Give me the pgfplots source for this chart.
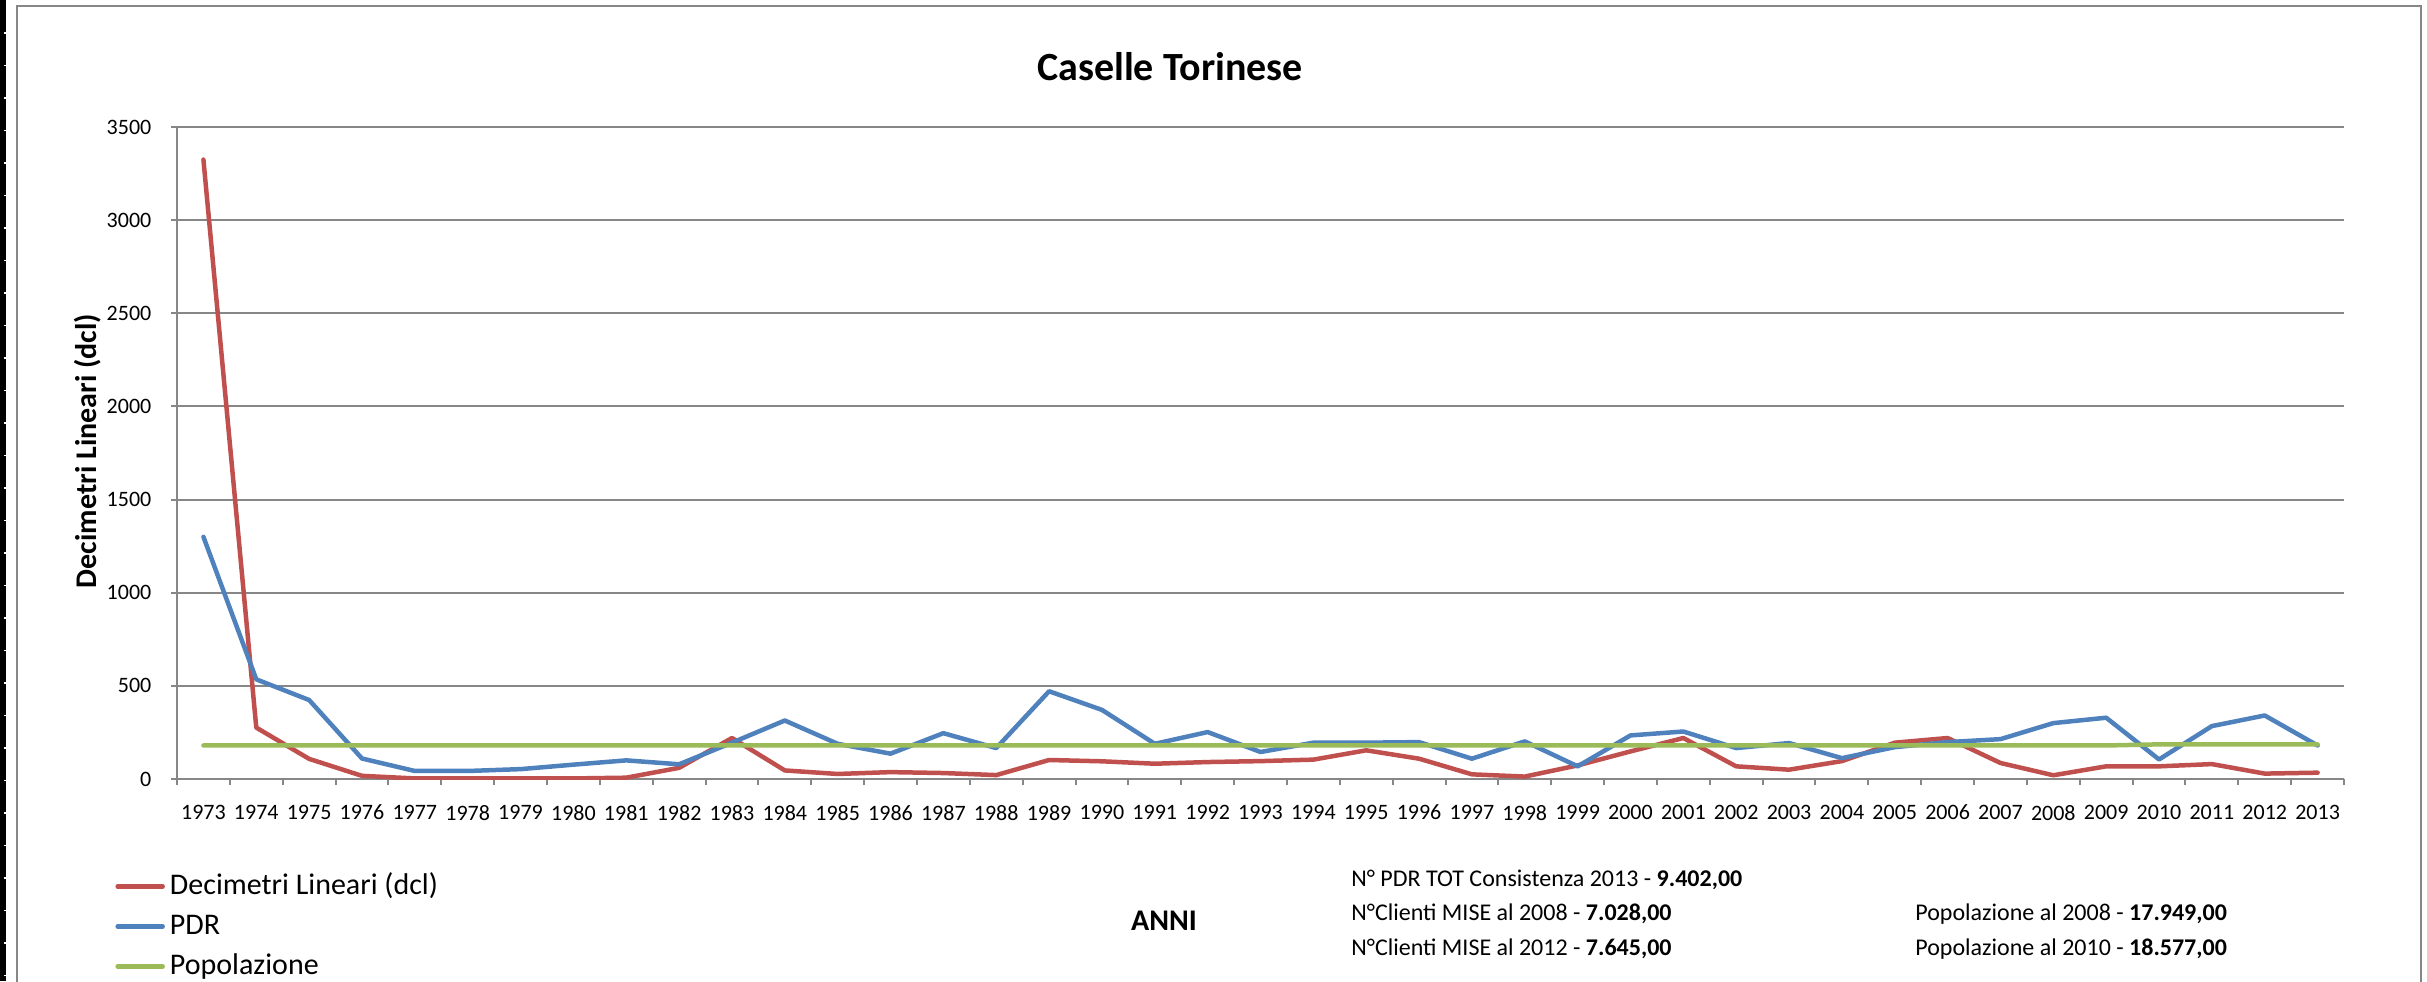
\documentclass[border=0pt]{standalone}
\usepackage{fontspec}
\setmainfont{Carlito}
\usepackage{pgfplots}
\usepackage{pgfplotstable}
\pgfplotsset{compat=1.18}
\definecolor{dclred}{HTML}{C0504D}
\definecolor{pdrblue}{HTML}{4F81BD}
\definecolor{popgreen}{HTML}{9BBB59}
\definecolor{gridgray}{HTML}{878787}

% anni, decimetri lineari, PDR, popolazione/100
\pgfplotstableread{
anno dcl  pdr  pop
1973 3325 1300 180
1974 276  535  180
1975 108  424  180
1976 17   110  180
1977 3    43   180
1978 3    43   180
1979 3    53   180
1980 3    77   180
1981 7    100  180
1982 60   79   180
1983 220  195  180
1984 46   314  180
1985 27   189  180
1986 37   136  180
1987 32   246  180
1988 21   166  180
1989 102  471  180
1990 95   371  180
1991 82   189  180
1992 91   252  180
1993 96   145  180
1994 104  195  180
1995 154  195  180
1996 109  198  180
1997 25   109  180
1998 13   202  180
1999 73   68   180
2000 148  234  180
2001 220  255  180
2002 68   166  180
2003 50   193  180
2004 96   112  180
2005 195  171  180
2006 220  198  180
2007 86   214  180
2008 20   300  180
2009 68   329  180
2010 68   105  186
2011 80   284  186
2012 29   341  186
2013 34   180  186
}\caselle

\begin{document}
\begin{tikzpicture}
\useasboundingbox (0pt,0pt) rectangle (1213.5pt,490.5pt);
% bordo nero a sinistra con tacche
\fill[black] (0pt,0pt) rectangle (3pt,490.5pt);
\foreach \t in {0,...,29}
  \draw[white, line width=0.8pt] (2pt,{474pt-\t*16.25pt}) -- (3.2pt,{474pt-\t*16.25pt});
\draw[gridgray, line width=1pt] (8.5pt,-5pt) rectangle (1210.5pt,487.5pt);

\begin{axis}[
  at={(88.5pt,101pt)}, anchor=south west,
  scale only axis,
  width=1083.5pt, height=326pt,
  xmin=1972.5, xmax=2013.5,
  ymin=0, ymax=3500,
  ytick={0,500,...,3500},
  xtick={1972.5,1973.5,...,2013.5},
  xticklabels={1973,1974,1975,1976,1977,1978,1979,1980,1981,1982,1983,1984,1985,1986,1987,1988,1989,1990,1991,1992,1993,1994,1995,1996,1997,1998,1999,2000,2001,2002,2003,2004,2005,2006,2007,2008,2009,2010,2011,2012,2013,{}},
  xticklabel style={xshift=13.21pt, yshift=-6.5pt, font=\fontsize{11}{13}\selectfont},
  yticklabel style={xshift=-6.3pt, font=\fontsize{11}{13}\selectfont},
  /pgf/number format/assume math mode=true,
  /pgf/number format/1000 sep={},
  axis x line*=bottom, axis y line*=left,
  axis line style={gridgray, line width=1pt},
  tick style={gridgray, line width=1pt},
  tick align=outside, major tick length=3pt,
  ymajorgrids, grid style={gridgray, line width=1pt},
  legend cell align=left,
  legend style={at={(-0.0286,-0.1334)}, anchor=north west,
    draw=none, fill=none, inner sep=0pt, row sep=0pt, column sep=2.5pt,
    font=\fontsize{15}{18}\selectfont,
    nodes={inner sep=0pt, text height=14pt, text depth=6pt}},
  legend image code/.code={\draw[#1] (0pt,0pt) -- (22.5pt,0pt);},
  every axis plot/.append style={line width=2.25pt, line join=round, line cap=round},
]
\addplot[dclred] table[x=anno, y=dcl] {\caselle};
\addlegendentry{Decimetri Lineari (dcl)}
\addplot[pdrblue] table[x=anno, y=pdr] {\caselle};
\addlegendentry{PDR}
\addplot[popgreen] table[x=anno, y=pop] {\caselle};
\addlegendentry{Popolazione}
\end{axis}

\node[anchor=base, font=\fontsize{20}{24}\selectfont\bfseries] at (585pt,450pt) {Caselle Torinese};
\node[rotate=90, font=\fontsize{15}{18}\selectfont\bfseries] at (44pt,265pt) {Decimetri Lineari (dcl)};
\node[font=\fontsize{15}{18}\selectfont\bfseries] at (582pt,30pt) {ANNI};

\begin{scope}[every node/.style={anchor=base west, inner sep=0pt, font=\fontsize{12}{14}\selectfont}]
\node at (675.5pt,47.5pt) {N° PDR TOT Consistenza 2013 - \textbf{9.402,00}};
\node at (675.5pt,30.5pt) {N°Clienti MISE al 2008 - \textbf{7.028,00}};
\node at (675.5pt,13pt) {N°Clienti MISE al 2012 - \textbf{7.645,00}};
\node at (957.5pt,30.5pt) {Popolazione al 2008 - \textbf{17.949,00}};
\node at (957.5pt,13pt) {Popolazione al 2010 - \textbf{18.577,00}};
\end{scope}
\end{tikzpicture}
\end{document}
